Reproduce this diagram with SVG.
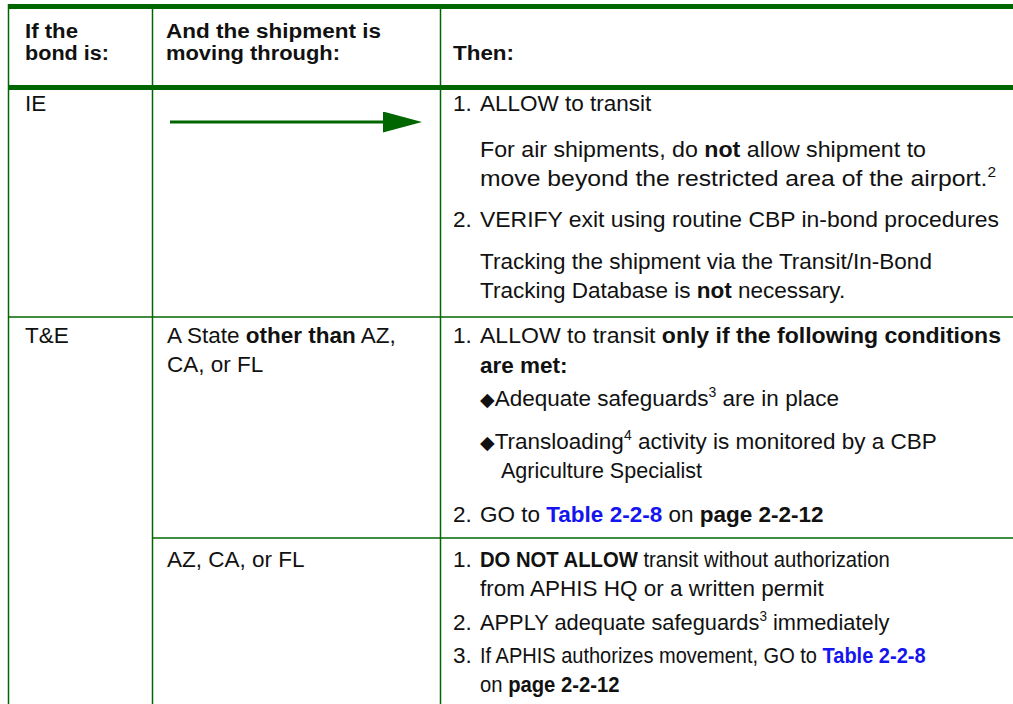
<svg xmlns="http://www.w3.org/2000/svg" width="1013" height="704" viewBox="0 0 1013 704">
  <style>
    .rule { stroke: #006600; stroke-width: 1.5; fill: none; }
    .bar { fill: #006600; }
    text { font-family: "Liberation Sans", Arial, sans-serif; font-size: 22.5px; fill: #111; }
    .hd { font-weight: bold; font-size: 19.5px; }
    .b { font-weight: bold; }
    .lnk { font-weight: bold; fill: #1515f0; }
    .sup { font-size: 14px; }
    .dia { font-family: "DejaVu Sans", sans-serif; font-size: 19px; }
  </style>
  <defs>
    <marker id="head" viewBox="0 0 39 21" refX="0" refY="10.5" markerWidth="39" markerHeight="21" markerUnits="userSpaceOnUse" orient="auto">
      <path d="M0,0 L39,10.5 L0,21 Z" fill="#006600"/>
    </marker>
  </defs>
  <rect width="1013" height="704" fill="#fff"/>

  <!-- table grid -->
  <g id="grid">
    <rect class="bar" x="8" y="4" width="1005" height="5"/>
    <rect class="bar" x="8" y="85" width="1005" height="5"/>
    <line class="rule" x1="8.5" y1="4" x2="8.5" y2="704"/>
    <line class="rule" x1="152.5" y1="4" x2="152.5" y2="704"/>
    <line class="rule" x1="440.5" y1="4" x2="440.5" y2="704"/>
    <line class="rule" x1="8" y1="317" x2="1013" y2="317"/>
    <line class="rule" x1="152" y1="538" x2="1013" y2="538"/>
  </g>

  <!-- header row -->
  <g id="header">
    <text class="hd" x="25" y="38" textLength="53" lengthAdjust="spacingAndGlyphs">If the</text>
    <text class="hd" x="25" y="60" textLength="84" lengthAdjust="spacingAndGlyphs">bond is:</text>
    <text class="hd" x="166" y="38" textLength="215" lengthAdjust="spacingAndGlyphs">And the shipment is</text>
    <text class="hd" x="166" y="60" textLength="174" lengthAdjust="spacingAndGlyphs">moving through:</text>
    <text class="hd" x="453" y="60" textLength="61" lengthAdjust="spacingAndGlyphs">Then:</text>
  </g>

  <!-- IE row -->
  <g id="row-ie">
    <text x="25" y="111">IE</text>
    <text x="453" y="111">1.</text>
    <text x="480" y="111">ALLOW to transit</text>
    <text x="480" y="157" textLength="446" lengthAdjust="spacingAndGlyphs">For air shipments, do <tspan class="b">not</tspan> allow shipment to</text>
    <text x="480" y="186" textLength="516" lengthAdjust="spacingAndGlyphs">move beyond the restricted area of the airport.<tspan class="sup" dy="-9">2</tspan></text>
    <text x="453" y="227">2.</text>
    <text x="480" y="227" textLength="519" lengthAdjust="spacingAndGlyphs">VERIFY exit using routine CBP in-bond procedures</text>
    <text x="480" y="269">Tracking the shipment via the Transit/In-Bond</text>
    <text x="480" y="298">Tracking Database is <tspan class="b">not</tspan> necessary.</text>
  </g>

  <!-- T&E row, states other than AZ, CA, FL -->
  <g id="row-te-other">
    <text x="25" y="343">T&amp;E</text>
    <text x="167" y="343">A State <tspan class="b">other than</tspan> AZ,</text>
    <text x="167" y="372">CA, or FL</text>
    <text x="453" y="343">1.</text>
    <text x="480" y="343" textLength="521" lengthAdjust="spacingAndGlyphs">ALLOW to transit <tspan class="b">only if the following conditions</tspan></text>
    <text class="b" x="480" y="373">are met:</text>
    <text x="480" y="406"><tspan class="dia">◆</tspan>Adequate safeguards<tspan class="sup" dy="-9">3</tspan><tspan dy="9"> are in place</tspan></text>
    <text x="480" y="449"><tspan class="dia">◆</tspan>Transloading<tspan class="sup" dy="-9">4</tspan><tspan dy="9"> activity is monitored by a CBP</tspan></text>
    <text x="501" y="478" textLength="201" lengthAdjust="spacingAndGlyphs">Agriculture Specialist</text>
    <text x="453" y="522">2.</text>
    <text x="480" y="522">GO to <tspan class="lnk">Table 2-2-8</tspan> on <tspan class="b">page 2-2-12</tspan></text>
  </g>

  <!-- T&E row, AZ, CA, FL: narrower set lines -->
  <g id="row-te-azcafl">
    <text x="167" y="567">AZ, CA, or FL</text>
    <text x="453" y="567">1.</text>
    <text transform="translate(480 567) scale(0.9 1)"><tspan class="b">DO NOT ALLOW</tspan> transit without authorization</text>
    <text x="480" y="596">from APHIS HQ or a written permit</text>
    <text x="453" y="630">2.</text>
    <text transform="translate(480 630) scale(0.97 1)">APPLY adequate safeguards<tspan class="sup" dy="-9">3</tspan><tspan dy="9"> immediately</tspan></text>
    <text x="453" y="663">3.</text>
    <text transform="translate(480 663) scale(0.89 1)">If APHIS authorizes movement, GO to <tspan class="lnk">Table 2-2-8</tspan></text>
    <text transform="translate(480 692) scale(0.9 1)">on <tspan class="b">page 2-2-12</tspan></text>
  </g>

  <!-- connectors -->
  <g id="connectors">
    <line x1="170" y1="122" x2="383" y2="122" stroke="#006600" stroke-width="3" marker-end="url(#head)"/>
  </g>
</svg>
